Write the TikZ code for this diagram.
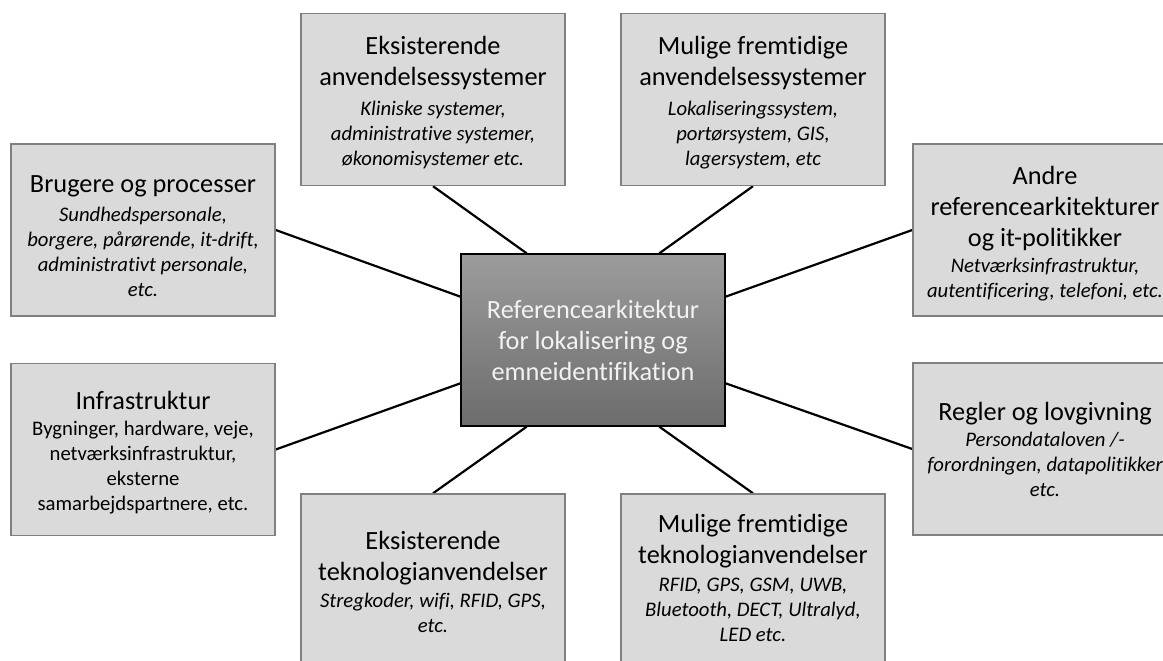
\documentclass[tikz,border=0pt]{standalone}
\usepackage{fontspec}
\setmainfont{Carlito}[Ligatures=NoCommon]
\usetikzlibrary{calc}
\pgfdeclarelayer{background}
\pgfsetlayers{background,main}

\definecolor{boxfill}{HTML}{DADADA}
\definecolor{boxline}{HTML}{808080}
\definecolor{hubtop}{HTML}{9C9C9C}
\definecolor{hubbottom}{HTML}{6C6C6C}
\definecolor{hubtext}{HTML}{F2F2F2}

% #1 heading, #2 details, #3 heading-to-details skip, #4 detail shape,
% #5 extra space above the heading (moves the text block down by half of it)
\newcommand\topicbox[5]{%
  \parbox{252pt}{\vspace*{#5pt}\centering
    \fontsize{26.3}{31}\selectfont #1\par
    \vspace{\dimexpr #3pt-25pt\relax}%
    \fontsize{20.7}{25}\selectfont #4#2\par}}

\tikzset{
  topic/.style={draw=boxline, line width=1.4pt, fill=boxfill,
    minimum width=264pt, minimum height=172pt, inner sep=0pt, text=black},
  hub/.style={draw=black, line width=1.4pt, top color=hubtop, bottom color=hubbottom,
    minimum width=264pt, minimum height=172pt, inner sep=0pt, text=hubtext},
  link/.style={draw=black, line width=2.2pt}
}

\begin{document}
\begin{tikzpicture}[x=1pt, y=-1pt]
  \clip (0,0) rectangle (1163,661);

  \node[hub] (c) at (593,340) {\parbox{252pt}{\centering\fontsize{26.3}{31}\selectfont
    Referencearkitektur\\for lokalisering og\\emneidentifikation}};

  \node[topic] (bru) at (143,230) {\topicbox{Brugere og processer}
    {Sundhedspersonale,\\borgere, pårørende, it-drift,\\administrativt personale,\\etc.}{29}{\itshape}{12}};
  \node[topic] (eka) at (433,99.5) {\topicbox{Eksisterende\\anvendelsessystemer}
    {Kliniske systemer,\\administrative systemer,\\økonomisystemer etc.}{29.5}{\itshape}{6}};
  \node[topic] (mua) at (753,99.5) {\topicbox{Mulige fremtidige\\anvendelsessystemer}
    {Lokaliseringssystem,\\portørsystem, GIS,\\lagersystem, etc}{29.5}{\itshape}{6}};
  \node[topic] (and) at (1045,230) {\topicbox{Andre\\referencearkitekturer\\og it-politikker}
    {Netværksinfrastruktur,\\autentificering, telefoni, etc.}{26}{\itshape}{8}};
  \node[topic] (inf) at (143,449.5) {\topicbox{Infrastruktur}
    {Bygninger, hardware, veje,\\netværksinfrastruktur,\\eksterne\\samarbejdspartnere, etc.}{26}{}{6}};
  \node[topic] (reg) at (1045,449) {\topicbox{Regler og lovgivning}
    {Persondataloven /-\\forordningen, datapolitikker\\etc.}{26}{\itshape}{0}};
  \node[topic] (ekt) at (433,580) {\topicbox{Eksisterende\\teknologianvendelser}
    {Stregkoder, wifi, RFID, GPS,\\etc.}{27}{\itshape}{4}};
  \node[topic] (mut) at (753,580) {\topicbox{Mulige fremtidige\\teknologianvendelser}
    {RFID, GPS, GSM, UWB,\\Bluetooth, DECT, Ultralyd,\\LED etc.}{28}{\itshape}{-4}};

  \begin{pgfonlayer}{background}
    \draw[link] (bru.east) -- ($(c.north west)!0.25!(c.south west)$);
    \draw[link] (inf.east) -- ($(c.north west)!0.75!(c.south west)$);
    \draw[link] (and.west) -- ($(c.north east)!0.25!(c.south east)$);
    \draw[link] (reg.west) -- ($(c.north east)!0.75!(c.south east)$);
    \draw[link] (eka.south) -- ($(c.north west)!0.25!(c.north east)$);
    \draw[link] (mua.south) -- ($(c.north west)!0.75!(c.north east)$);
    \draw[link] (ekt.north) -- ($(c.south west)!0.25!(c.south east)$);
    \draw[link] (mut.north) -- ($(c.south west)!0.75!(c.south east)$);
  \end{pgfonlayer}
\end{tikzpicture}
\end{document}
